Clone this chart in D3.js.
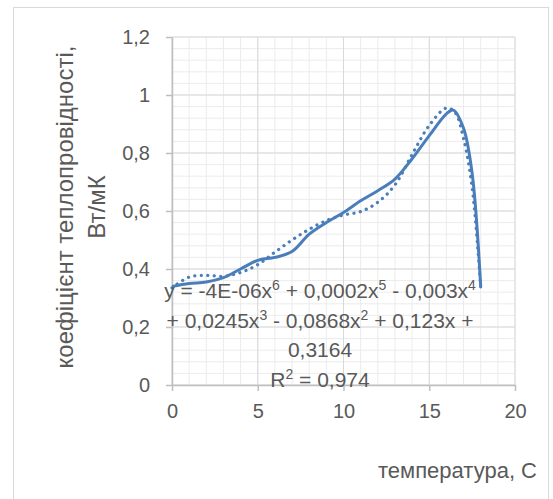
<!DOCTYPE html>
<html>
<head>
<meta charset="utf-8">
<script src="https://cdn.jsdelivr.net/npm/d3@7"></script>
<style>
  body { margin: 0; background: #fff; }
  svg text { font-family: "Liberation Sans", Arial, sans-serif; fill: #595959; }
</style>
</head>
<body>
<svg id="chart" width="553" height="499"></svg>
<script>
// measured series (x = temperature, y = conductivity)
var tempX = [0, 1, 2, 3, 4, 5, 6, 7, 8, 9, 10, 11, 12, 13, 14, 15, 16, 16.4, 17, 17.5, 18];
var condY = [0.34, 0.35, 0.355, 0.37, 0.40, 0.43, 0.44, 0.46, 0.52, 0.56, 0.595, 0.635, 0.67, 0.71, 0.78, 0.86, 0.935, 0.948, 0.885, 0.73, 0.34];

// polynomial trendline
var trendX = [0, 1, 2, 3, 4, 5, 6, 7, 8, 9, 10, 11, 12, 13, 14, 15, 16, 16.5, 17, 17.5, 18];
var trendY = [0.335, 0.372, 0.378, 0.375, 0.388, 0.415, 0.458, 0.50, 0.537, 0.567, 0.586, 0.598, 0.63, 0.69, 0.795, 0.895, 0.955, 0.94, 0.85, 0.68, 0.335];

var yTicks = [0, 0.2, 0.4, 0.6, 0.8, 1, 1.2];
var xTicks = [0, 5, 10, 15, 20];
var eqLines = ["y = -4E-06x⁶ + 0,0002x⁵ - 0,003x⁴", "+ 0,0245x³ - 0,0868x² + 0,123x +", "0,3164", "R² = 0,974"];

var svg = d3.select("#chart"),
    margin = {left: 172, right: 38, top: 37, bottom: 114},
    width = +svg.attr("width") - margin.left - margin.right,
    height = +svg.attr("height") - margin.top - margin.bottom;

// chart frame
svg.append("rect")
    .attr("x", 13.5).attr("y", 7.5)
    .attr("width", 535).attr("height", 520)
    .style("fill", "none").style("stroke", "#d9d9d9");

var x = d3.scaleLinear().domain([0, 20]).range([margin.left, margin.left + width]);
var y = d3.scaleLinear().domain([0, 1.2]).range([margin.top + height, margin.top]);

var fmt = function (d) { return String(d).replace(".", ","); };

// minor grid
svg.append("g").selectAll("line").data(d3.range(0, 20.001, 1))
    .enter().append("line")
    .attr("x1", d => x(d)).attr("x2", d => x(d))
    .attr("y1", y(0)).attr("y2", y(1.2))
    .style("stroke", "#ececec");
svg.append("g").selectAll("line").data(d3.range(0, 1.2001, 0.04))
    .enter().append("line")
    .attr("x1", x(0)).attr("x2", x(20))
    .attr("y1", d => y(d)).attr("y2", d => y(d))
    .style("stroke", "#ececec");

// major grid
svg.append("g").selectAll("line").data(xTicks)
    .enter().append("line")
    .attr("x1", d => x(d)).attr("x2", d => x(d))
    .attr("y1", y(0)).attr("y2", y(1.2))
    .style("stroke", "#d9d9d9");
svg.append("g").selectAll("line").data(yTicks)
    .enter().append("line")
    .attr("x1", x(0)).attr("x2", x(20))
    .attr("y1", d => y(d)).attr("y2", d => y(d))
    .style("stroke", "#d9d9d9");

// axes
var xAxis = svg.append("g")
    .attr("transform", "translate(0," + y(0) + ")")
    .call(d3.axisBottom(x).tickValues(xTicks).tickFormat(fmt).tickSize(6).tickSizeOuter(0).tickPadding(13));
var yAxis = svg.append("g")
    .attr("transform", "translate(" + x(0) + ",0)")
    .call(d3.axisLeft(y).tickValues(yTicks).tickFormat(fmt).tickSize(6).tickSizeOuter(0).tickPadding(16));
[xAxis, yAxis].forEach(function (a) {
    a.select(".domain").style("stroke", "#bfbfbf").style("stroke-width", 1.5);
    a.selectAll(".tick line").style("stroke", "#bfbfbf").style("stroke-width", 1.5);
    a.selectAll(".tick text").style("font-size", "20px").style("fill", "#595959")
        .style("font-family", "'Liberation Sans', Arial, sans-serif");
});

// series
var line = d3.line().curve(d3.curveCatmullRom.alpha(0.5));
svg.append("path")
    .attr("d", line(tempX.map((d, i) => [x(d), y(condY[i])])))
    .style("fill", "none").style("stroke", "#4a7ebb").style("stroke-width", 3);

svg.append("path")
    .attr("d", line(trendX.map((d, i) => [x(d), y(trendY[i])])))
    .style("fill", "none").style("stroke", "#4a7ebb").style("stroke-width", 3.2)
    .style("stroke-linecap", "round").style("stroke-dasharray", "0.1,6.4");

// trendline label, superscripts as raised tspans
var sup = {"²": "2", "³": "3", "⁴": "4", "⁵": "5", "⁶": "6"};
var eqText = svg.append("g").selectAll("text").data(eqLines)
    .enter().append("text")
    .attr("x", 320)
    .attr("y", (d, i) => 298 + i * 29.5)
    .attr("text-anchor", "middle")
    .style("font-size", "21px");
eqText.each(function (d) {
    var t = d3.select(this);
    var shift = 0;
    d.split(/([²³⁴⁵⁶])/).forEach(function (part) {
        if (!part) return;
        if (sup[part]) {
            t.append("tspan").attr("dy", -8).style("font-size", "14px").text(sup[part]);
            shift = 8;
        } else {
            t.append("tspan").attr("dy", shift).text(part);
            shift = 0;
        }
    });
});

// axis titles
svg.append("text")
    .attr("transform", "translate(73,207) rotate(-90)")
    .attr("text-anchor", "middle")
    .style("font-size", "24px")
    .text("коефіцієнт теплопровідності,");
svg.append("text")
    .attr("transform", "translate(105,207) rotate(-90)")
    .attr("text-anchor", "middle")
    .style("font-size", "24px")
    .text("Вт/мК");
svg.append("text")
    .attr("x", 537).attr("y", 478)
    .attr("text-anchor", "end")
    .style("font-size", "22px")
    .text("температура, С");
</script>
</body>
</html>
